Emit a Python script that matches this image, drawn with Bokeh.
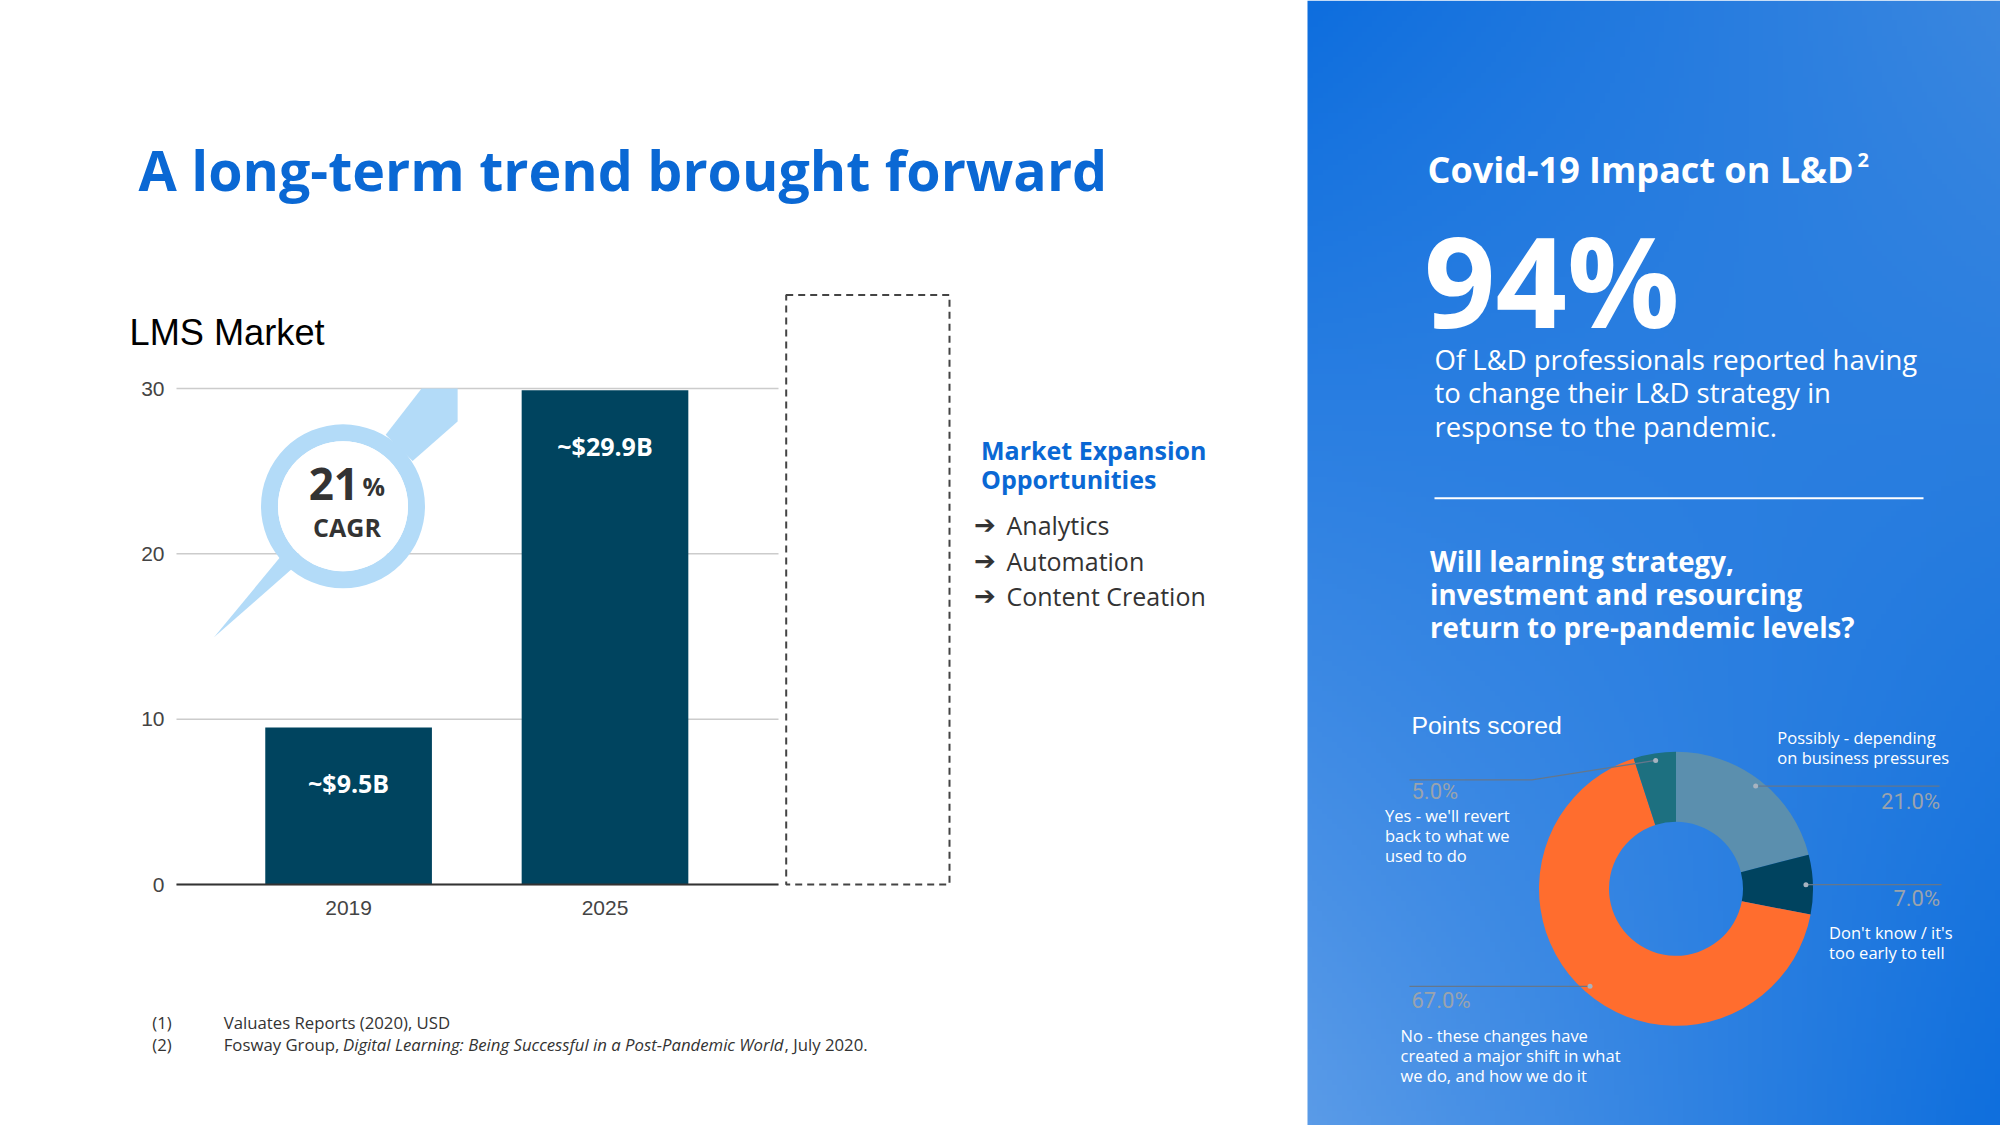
import numpy as np
from bokeh.plotting import figure
from bokeh.models import Range1d, Label, ColumnDataSource
from bokeh.embed import file_html
from bokeh.resources import INLINE
from bokeh.core.properties import value

# ---------------- data ----------------
years = ["2019", "2025"]
market_size = [9.5, 29.9]
bar_labels = ["~$9.5B", "~$29.9B"]
y_ticks = [0, 10, 20, 30]
chart_title = "LMS Market"
cagr_number = "21"
cagr_text = "CAGR"
slide_title = "A long-term trend brought forward"
opportunities_title = ["Market Expansion", "Opportunities"]
opportunities = ["Analytics", "Automation", "Content Creation"]
footnotes = ["(1)", "(2)"]
footnote_1 = "Valuates Reports (2020), USD"
footnote_2 = ["Fosway Group, ", "Digital Learning: Being Successful in a Post-Pandemic World", ", July 2020."]

panel_title = "Covid-19 Impact on L&D"
headline_pct = "94%"
headline_text = ["Of L&D professionals reported having", "to change their L&D strategy in", "response to the pandemic."]
question = ["Will learning strategy,", "investment and resourcing", "return to pre-pandemic levels?"]
donut_title = "Points scored"
survey_answers = [
    ["Possibly - depending", "on business pressures"],
    ["Don't know / it's", "too early to tell"],
    ["No - these changes have", "created a major shift in what", "we do, and how we do it"],
    ["Yes - we'll revert", "back to what we", "used to do"],
]
survey_share = [21.0, 7.0, 67.0, 5.0]
slice_colors = ["#5b8fae", "#00435f", "#ff6d2e", "#1d7080"]

# ---------------- page geometry (screen px, top-down) ----------------
W, H = 2000, 1125
CL, CR, CT, CB = 176, 778, 388, 884      # bar-chart plotting area
X_LO, X_HI = 0.3288, 2.6767              # category axis extent over CL..CR
V_LO, V_HI = 0, 30                       # value axis extent over CB..CT

BLUE = "#0a68d4"
DARK = "#333333"


def Y(y):
    return H - y


p = figure(width=W, height=H, x_range=Range1d(0, W), y_range=Range1d(0, H),
           output_backend="svg", toolbar_location=None,
           x_axis_location=None, y_axis_location=None, min_border=0)
p.grid.visible = False
p.outline_line_color = None
p.background_fill_color = "white"
p.border_fill_color = "white"

# scales for the bar chart: map category / value space onto the chart area
kx = (X_HI - X_LO) / (CR - CL)
ky = (V_HI - V_LO) / (CB - CT)
p.extra_x_ranges = {"cat": Range1d(X_LO - CL * kx, X_LO + (W - CL) * kx)}
p.extra_y_ranges = {"val": Range1d(V_LO - (H - CB) * ky, V_LO + CB * ky)}


def add_label(x, y, text, size, color, font="Open Sans", style="normal",
              align="left", baseline="alphabetic"):
    p.add_layout(Label(x=x, y=Y(y), text=text, text_font=font, text_font_size=f"{size}px",
                       text_font_style=style, text_color=color, text_align=align,
                       text_baseline=baseline))


# ================= right blue panel background =================
ny, nx = 220, 140
v = np.linspace(0, 1, ny)[:, None, None]          # 0 = bottom, 1 = top
u = np.linspace(0, 1, nx)[None, :, None]
BLc, BRc = np.array([90, 155, 232]), np.array([15, 111, 221])
TLc, TRc = np.array([14, 110, 222]), np.array([58, 135, 224])
rgb = (1 - u) * (1 - v) * BLc + u * (1 - v) * BRc + (1 - u) * v * TLc + u * v * TRc
img = np.empty((ny, nx), dtype=np.uint32)
view = img.view(dtype=np.uint8).reshape((ny, nx, 4))
view[..., :3] = rgb.astype(np.uint8)
view[..., 3] = 255
p.image_rgba(image=[img], x=1307, y=0, dw=W - 1307, dh=H)

# ================= bar chart =================
xs = [i + 1 for i in range(len(years))]
p.segment(x0=CL, x1=CR, y0=y_ticks, y1=y_ticks, y_range_name="val",
          line_color="#cccccc", line_width=1.5)
p.text(x=CL - 12, y=y_ticks, text=[str(t) for t in y_ticks], y_range_name="val",
       text_align="right", text_baseline="middle", text_color="#444444",
       text_font=value("Liberation Sans"), text_font_size=value("21px"))

# magnifier bubble (decoration)
LB = "#b3dbf8"
p.patch(x=[385.2, 421.1, 457.1, 457.1, 412.1], y=[Y(434.3), Y(388), Y(388), Y(421.1), Y(460.4)],
        color=LB, line_color=None)
p.patch(x=[213.5, 281.0, 293.0], y=[Y(636.8), Y(555.0), Y(567.0)], color=LB, line_color=None)
p.annulus(x=342.5, y=Y(505.8), inner_radius=65, outer_radius=82, color=LB, line_color=None)
p.circle(x=342.5, y=Y(505.8), radius=65, color="white", line_color=None)

p.vbar(x=xs, top=market_size, bottom=0, width=0.65, color="#00445f", line_color=None,
       x_range_name="cat", y_range_name="val")
p.segment(x0=CL, x1=CR, y0=0, y1=0, y_range_name="val", line_color="#333333", line_width=2)
p.text(x=xs, y=[0] * len(xs), text=years, x_range_name="cat", y_range_name="val",
       y_offset=23.5, text_align="center", text_baseline="alphabetic", text_color="#444444",
       text_font=value("Liberation Sans"), text_font_size=value("21px"))
p.text(x=xs, y=market_size, text=bar_labels, x_range_name="cat", y_range_name="val",
       text_align="center", text_baseline="alphabetic", y_offset=56, text_color="white",
       text_font=value("Open Sans"), text_font_style="bold", text_font_size=value("25px"))

add_label(308.2, 483.6, cagr_number, 44, DARK, style="bold")
add_label(362.0, 485.6, "%", 25, DARK, style="bold")
add_label(346.5, 526.8, cagr_text, 25, DARK, style="bold", align="center")

# ================= left texts =================
add_label(138, 168.7, slide_title, 55.5, BLUE, style="bold")
add_label(129, 331.9, chart_title, 36.2, "#000000", font="Liberation Sans")

p.quad(left=785.7, right=949, top=Y(294.6), bottom=Y(884), fill_color=None,
       line_color="#444444", line_width=2, line_dash="7 5")

for i, t in enumerate(opportunities_title):
    add_label(980.5, 449 + i * 29.5, t, 25, BLUE, style="bold")
for i, t in enumerate(opportunities):
    yb = 524.3 + i * 35.7
    add_label(973.5, yb, "\u2794", 26, DARK, font="DejaVu Sans")
    add_label(1006, yb, t, 25, DARK)

fs = 16.75
add_label(151.8, 1021.5, footnotes[0], fs, DARK)
add_label(151.8, 1044.4, footnotes[1], fs, DARK)
add_label(223.2, 1021.5, footnote_1, fs, DARK)
add_label(223.2, 1044.4, footnote_2[0], fs, DARK)
add_label(342.5, 1044.4, footnote_2[1], fs, DARK, style="italic")
add_label(784.0, 1044.4, footnote_2[2], fs, DARK)

# ================= right panel texts =================
add_label(1427, 169.3, panel_title, 36, "white", style="bold")
add_label(1857, 159, "2", 20, "white", style="bold")
add_label(1423.5, 279, headline_pct, 125, "white", style="bold")
for i, t in enumerate(headline_text):
    add_label(1434, 358.8 + i * 33.35, t, 27.5, "white")
p.line(x=[1434, 1923], y=[Y(497.7), Y(497.7)], line_color="white", line_width=2)
for i, t in enumerate(question):
    add_label(1429.5, 560 + i * 33.35, t, 27.7, "white", style="bold")

add_label(1411, 725, donut_title, 24.8, "white", font="Liberation Sans")

# ================= donut =================
cx, cy = 1675.5, 888.3
cum = np.cumsum([0] + survey_share)
starts = [np.pi / 2 - 2 * np.pi * c / 100 for c in cum[:-1]]
ends = [np.pi / 2 - 2 * np.pi * c / 100 for c in cum[1:]]
src = ColumnDataSource(dict(start=starts, end=ends, color=slice_colors))
p.annular_wedge(x=cx, y=Y(cy), inner_radius=67, outer_radius=137, start_angle="start",
                end_angle="end", direction="clock", fill_color="color", line_color=None,
                source=src)

mids = [2 * np.pi * (a + b) / 200 for a, b in zip(cum[:-1], cum[1:])]
dot_x = [cx + 130 * np.sin(m) for m in mids]
dot_y = [cy - 130 * np.cos(m) for m in mids]

leader_xs = [[dot_x[0], 1939], [dot_x[1], 1941], [dot_x[2], 1409], [dot_x[3], 1531.4, 1409]]
leader_ys = [[Y(dot_y[0])] * 2, [Y(dot_y[1])] * 2, [Y(dot_y[2])] * 2,
             [Y(dot_y[3]), Y(779.3), Y(779.3)]]
p.multi_line(xs=leader_xs, ys=leader_ys, line_color="#65778c", line_width=1.3)
p.scatter(x=dot_x, y=[Y(d) for d in dot_y], size=5, color="#a7b3c0", line_color=None)

pct_pos = [(1939.6, 801.3, "right"), (1939.6, 898.3, "right"), (1411, 999.6, "left"), (1411, 791, "left")]
for (px_, py_, al), s in zip(pct_pos, survey_share):
    add_label(px_, py_, f"{s:.1f}%", 22, "#9aa3ad", font="Roboto", align=al)

ans_pos = [(1776.8, 736.9), (1828.6, 932.3), (1400, 1035), (1384.5, 814.7)]
for (ax_, ay_), lines in zip(ans_pos, survey_answers):
    for j, t in enumerate(lines):
        add_label(ax_, ay_ + j * 20, t, 16.5, "white")

open("out.html", "w").write(file_html(p, INLINE))
